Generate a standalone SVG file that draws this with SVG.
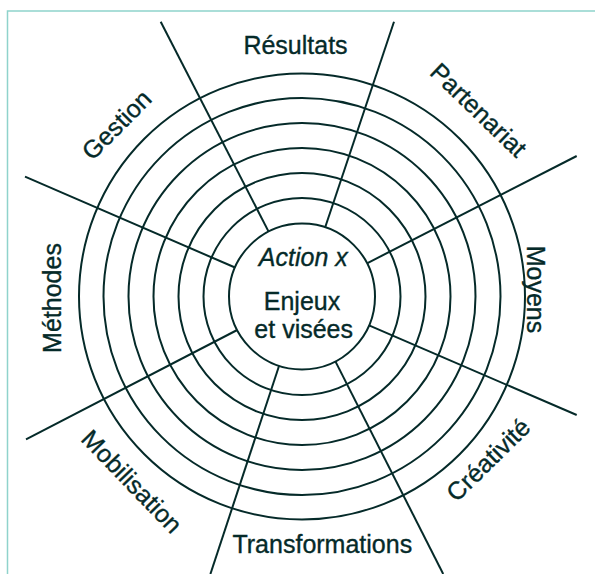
<svg xmlns="http://www.w3.org/2000/svg" width="595" height="574" viewBox="0 0 595 574">
<style>
.ring{fill:none;stroke:#052a29;stroke-width:2}
.sp{stroke:#052a29;stroke-width:2;fill:none}
.lb{font-family:"Liberation Sans",Arial,sans-serif;font-size:25px;fill:#052a29;stroke:#052a29;stroke-width:0.35;text-anchor:middle}
</style>
<rect x="0" y="0" width="595" height="574" fill="#ffffff"/>
<rect x="7.5" y="11" width="640" height="640" fill="none" stroke="#8fd3cc" stroke-width="1.5"/>
<g id="rings">
<circle class="ring" cx="302" cy="296.5" r="223"/>
<circle class="ring" cx="302" cy="296.5" r="198.5"/>
<circle class="ring" cx="302" cy="296.5" r="173.5"/>
<circle class="ring" cx="302" cy="296.5" r="148.5"/>
<circle class="ring" cx="302" cy="296.5" r="123.5"/>
<circle class="ring" cx="302" cy="296.5" r="98.5"/>
</g>
<g id="center">
<circle class="ring" cx="302" cy="296.5" r="73"/>
<text class="lb" x="303.3" y="266" font-style="italic">Action x</text>
<text class="lb" x="302" y="310">Enjeux</text>
<text class="lb" x="303.7" y="338">et visées</text>
</g>
<g id="connectors">
<line class="sp" x1="268.6" y1="231.6" x2="160.7" y2="21.7"/>
<line class="sp" x1="335.4" y1="361.4" x2="443.2" y2="574"/>
<line class="sp" x1="325.2" y1="227.3" x2="394" y2="21.7"/>
<line class="sp" x1="279.1" y1="365.8" x2="210.4" y2="574"/>
<line class="sp" x1="367" y1="263.3" x2="576.7" y2="156"/>
<line class="sp" x1="237.2" y1="330" x2="26" y2="439.3"/>
<line class="sp" x1="369" y1="325.4" x2="576.7" y2="415"/>
<line class="sp" x1="235" y1="267.5" x2="25" y2="176.7"/>
</g>
<g id="resultats"><text class="lb" x="295.5" y="54.3">Résultats</text></g>
<g id="partenariat"><text class="lb" transform="translate(472.5,116.2) rotate(44)">Partenariat</text></g>
<g id="moyens"><text class="lb" transform="translate(527,289.5) rotate(90)">Moyens</text></g>
<g id="creativite"><text class="lb" transform="translate(494.3,466) rotate(-44.4)">Créativité</text></g>
<g id="transformations"><text class="lb" x="322.3" y="553">Transformations</text></g>
<g id="mobilisation"><text class="lb" transform="translate(125.6,487.6) rotate(46)">Mobilisation</text></g>
<g id="methodes"><text class="lb" transform="translate(60.5,298) rotate(-90)">Méthodes</text></g>
<g id="gestion"><text class="lb" transform="translate(122.7,131) rotate(-45)">Gestion</text></g>
</svg>
